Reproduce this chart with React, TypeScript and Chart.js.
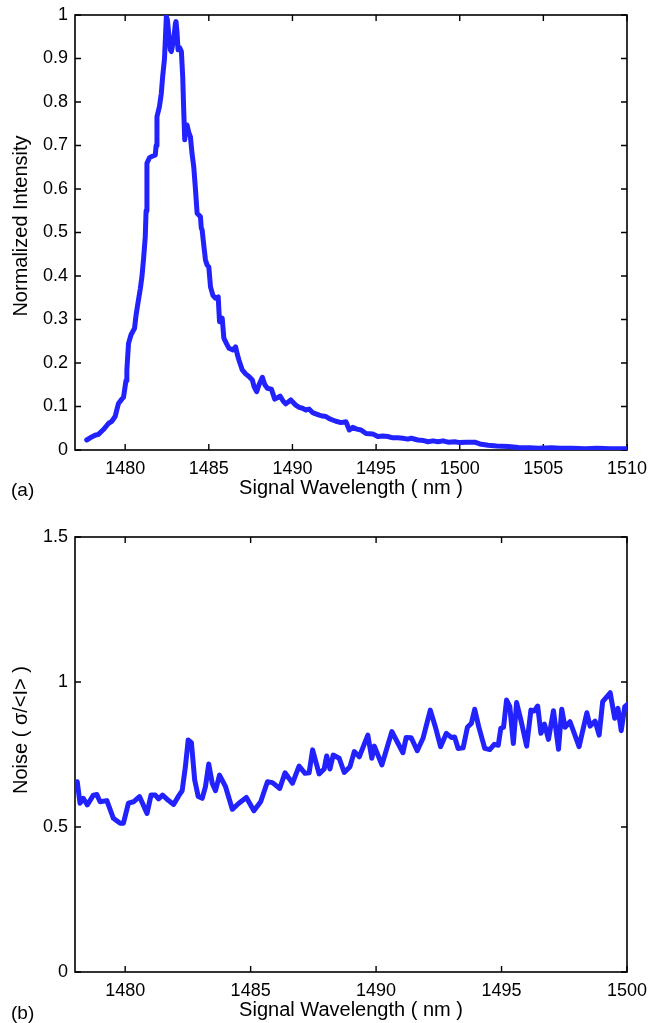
import React, { useEffect, useRef } from "react";
import { Chart, registerables } from "chart.js";
Chart.register(...registerables);

// ---- Panel (a): normalized intensity spectrum ----
const wavelengthA = [
  1477.7, 1478.0, 1478.2, 1478.4, 1478.7, 1479.0, 1479.2, 1479.4, 1479.5, 1479.6,
  1479.8, 1479.9, 1480.05, 1480.1, 1480.2, 1480.35, 1480.56, 1480.65, 1480.76, 1480.9,
  1481.0, 1481.1, 1481.2, 1481.25, 1481.3, 1481.45, 1481.56, 1481.8, 1481.85, 1481.9,
  1482.05, 1482.16, 1482.24, 1482.35, 1482.4, 1482.46, 1482.52, 1482.6, 1482.7, 1482.76,
  1482.9, 1483.0, 1483.04, 1483.1, 1483.16, 1483.26, 1483.36, 1483.44, 1483.5, 1483.56,
  1483.62, 1483.7, 1483.8, 1483.9, 1484.0, 1484.1, 1484.2, 1484.3, 1484.4, 1484.5,
  1484.55, 1484.6, 1484.7, 1484.8, 1484.9, 1485.0, 1485.1, 1485.25, 1485.4, 1485.56,
  1485.64, 1485.8, 1485.9, 1486.05, 1486.2, 1486.44, 1486.6, 1486.7, 1486.8, 1487.0,
  1487.2, 1487.4, 1487.6, 1487.7, 1487.86, 1488.0, 1488.2, 1488.35, 1488.5, 1488.74,
  1488.94, 1489.1, 1489.26, 1489.45, 1489.6, 1489.9, 1490.2, 1490.4, 1490.6, 1490.8,
  1491.0, 1491.2, 1491.4, 1491.6, 1491.8, 1492.0, 1492.2, 1492.4, 1492.6, 1492.9,
  1493.2, 1493.4, 1493.6, 1493.85, 1494.1, 1494.4, 1494.8, 1495.1, 1495.4, 1495.7,
  1496.0, 1496.3, 1496.6, 1496.9, 1497.1, 1497.5, 1497.8, 1498.1, 1498.4, 1498.7,
  1499.0, 1499.3, 1499.7, 1500.0, 1500.4, 1500.9, 1501.2, 1501.7, 1502.2, 1502.9,
  1503.5, 1504.2, 1504.7, 1505.5, 1506.0, 1506.7, 1507.5, 1508.2, 1509.0, 1509.6,
  1510.0,
];
const intensityA = [
  0.023, 0.030, 0.034, 0.036, 0.047, 0.061, 0.066, 0.077, 0.092, 0.107,
  0.117, 0.121, 0.160, 0.184, 0.245, 0.265, 0.280, 0.310, 0.337, 0.370,
  0.398, 0.440, 0.490, 0.550, 0.659, 0.672, 0.674, 0.678, 0.700, 0.766,
  0.790, 0.820, 0.858, 0.900, 0.943, 0.996, 0.990, 0.958, 0.920, 0.916,
  0.943, 0.980, 0.985, 0.960, 0.920, 0.925, 0.916, 0.858, 0.780, 0.713,
  0.740, 0.747, 0.730, 0.720, 0.680, 0.651, 0.600, 0.544, 0.540, 0.536,
  0.510, 0.506, 0.470, 0.437, 0.425, 0.421, 0.375, 0.355, 0.349, 0.352,
  0.295, 0.303, 0.257, 0.245, 0.234, 0.230, 0.237, 0.220, 0.207, 0.184,
  0.175, 0.169, 0.161, 0.146, 0.134, 0.150, 0.167, 0.150, 0.142, 0.140,
  0.117, 0.120, 0.124, 0.112, 0.106, 0.115, 0.103, 0.098, 0.096, 0.092,
  0.094, 0.086, 0.083, 0.080, 0.078, 0.077, 0.072, 0.069, 0.066, 0.063,
  0.065, 0.046, 0.052, 0.048, 0.046, 0.038, 0.037, 0.031, 0.032, 0.031,
  0.028, 0.028, 0.027, 0.025, 0.027, 0.023, 0.022, 0.019, 0.021, 0.019,
  0.021, 0.018, 0.019, 0.017, 0.018, 0.018, 0.014, 0.011, 0.009, 0.008,
  0.006, 0.005, 0.004, 0.005, 0.004, 0.004, 0.003, 0.004, 0.003, 0.003,
  0.003,
];
const xTicksA = [1480, 1485, 1490, 1495, 1500, 1505, 1510];
const yTicksA = [0, 0.1, 0.2, 0.3, 0.4, 0.5, 0.6, 0.7, 0.8, 0.9, 1];
const yTickLabelsA = ["0", "0.1", "0.2", "0.3", "0.4", "0.5", "0.6", "0.7", "0.8", "0.9", "1"];

// ---- Panel (b): noise ----
const wavelengthB = [
  1478.09, 1478.2, 1478.33, 1478.49, 1478.73, 1478.87, 1479.0, 1479.27, 1479.53, 1479.8,
  1479.93, 1480.13, 1480.33, 1480.57, 1480.87, 1481.03, 1481.2, 1481.33, 1481.49, 1481.73,
  1481.93, 1482.15, 1482.27, 1482.4, 1482.51, 1482.64, 1482.77, 1482.91, 1483.07, 1483.2,
  1483.33, 1483.47, 1483.6, 1483.76, 1484.0, 1484.27, 1484.53, 1484.83, 1485.13, 1485.4,
  1485.67, 1485.87, 1486.16, 1486.37, 1486.67, 1486.93, 1487.17, 1487.33, 1487.47, 1487.73,
  1487.93, 1488.03, 1488.16, 1488.29, 1488.53, 1488.73, 1488.96, 1489.13, 1489.33, 1489.67,
  1489.83, 1489.93, 1490.23, 1490.63, 1490.84, 1491.07, 1491.2, 1491.4, 1491.64, 1491.87,
  1492.16, 1492.36, 1492.57, 1492.8, 1493.0, 1493.13, 1493.27, 1493.47, 1493.64, 1493.8,
  1493.93, 1494.09, 1494.33, 1494.53, 1494.71, 1494.87, 1494.97, 1495.08, 1495.2, 1495.33,
  1495.47, 1495.6, 1495.8, 1496.0, 1496.17, 1496.3, 1496.44, 1496.57, 1496.71, 1496.87,
  1497.07, 1497.27, 1497.4, 1497.53, 1497.73, 1498.09, 1498.4, 1498.53, 1498.73, 1498.89,
  1499.03, 1499.33, 1499.51, 1499.64, 1499.77, 1499.91, 1500.04,
];
const noiseB = [
  0.656, 0.582, 0.599, 0.576, 0.610, 0.612, 0.587, 0.591, 0.530, 0.513,
  0.513, 0.582, 0.587, 0.605, 0.547, 0.610, 0.610, 0.597, 0.610, 0.591,
  0.578, 0.610, 0.625, 0.708, 0.800, 0.791, 0.662, 0.605, 0.599, 0.639,
  0.717, 0.651, 0.625, 0.679, 0.639, 0.561, 0.582, 0.602, 0.556, 0.587,
  0.656, 0.653, 0.633, 0.687, 0.651, 0.710, 0.685, 0.687, 0.766, 0.683,
  0.700, 0.745, 0.700, 0.748, 0.737, 0.688, 0.708, 0.760, 0.742, 0.817,
  0.737, 0.779, 0.714, 0.829, 0.794, 0.756, 0.809, 0.808, 0.763, 0.806,
  0.903, 0.846, 0.777, 0.823, 0.809, 0.810, 0.771, 0.773, 0.844, 0.858,
  0.906, 0.846, 0.771, 0.767, 0.785, 0.782, 0.840, 0.844, 0.938, 0.915,
  0.788, 0.929, 0.858, 0.779, 0.903, 0.900, 0.917, 0.823, 0.855, 0.802,
  0.901, 0.768, 0.906, 0.844, 0.863, 0.777, 0.894, 0.848, 0.865, 0.817,
  0.932, 0.963, 0.875, 0.909, 0.832, 0.915, 0.924,
];
const xTicksB = [1480, 1485, 1490, 1495, 1500];
const yTicksB = [0, 0.5, 1, 1.5];
const yTickLabelsB = ["0", "0.5", "1", "1.5"];

const FONT = "'Liberation Sans', Arial, Helvetica, sans-serif";
const LINE_COLOR = "rgb(34, 34, 255)";

const boxPlugin = {
  id: "matlabBox",
  beforeDatasetsDraw(chart: any) {
    const { ctx, chartArea: a, scales } = chart;
    ctx.save();
    ctx.strokeStyle = "#000";
    ctx.lineWidth = 1.6;
    ctx.strokeRect(a.left, a.top, a.right - a.left, a.bottom - a.top);
    const tl = 6;
    ctx.lineWidth = 1.4;
    ctx.beginPath();
    scales.x.ticks.forEach((t: any) => {
      const px = scales.x.getPixelForValue(t.value);
      ctx.moveTo(px, a.bottom);
      ctx.lineTo(px, a.bottom - tl);
      ctx.moveTo(px, a.top);
      ctx.lineTo(px, a.top + tl);
    });
    scales.y.ticks.forEach((t: any) => {
      const py = scales.y.getPixelForValue(t.value);
      ctx.moveTo(a.left, py);
      ctx.lineTo(a.left + tl, py);
      ctx.moveTo(a.right, py);
      ctx.lineTo(a.right - tl, py);
    });
    ctx.stroke();
    ctx.restore();
  },
  afterDraw(chart: any, _args: any, opts: any) {
    if (!opts || !opts.text) return;
    const { ctx } = chart;
    ctx.save();
    ctx.translate(opts.cx, opts.cy);
    ctx.rotate(-Math.PI / 2);
    ctx.font = `20px ${FONT}`;
    ctx.fillStyle = "#000";
    ctx.textAlign = "center";
    ctx.textBaseline = "middle";
    ctx.fillText(opts.text, 0, 0);
    ctx.restore();
  },
};

function makeConfig(o: any) {
  const data = o.xs.map((x: number, i: number) => ({ x, y: o.ys[i] }));
  return {
    type: "line",
    data: {
      datasets: [
        {
          data,
          borderColor: LINE_COLOR,
          borderWidth: 5,
          pointRadius: 0,
          tension: 0,
          fill: false,
          borderJoinStyle: "round",
          borderCapStyle: "round",
        },
      ],
    },
    plugins: [boxPlugin],
    options: {
      animation: false,
      responsive: false,
      devicePixelRatio: 1,
      layout: { padding: o.padding },
      plugins: {
        legend: { display: false },
        tooltip: { enabled: false },
        matlabBox: { text: o.yTitle, cx: 21.5, cy: o.yTitleCy },
      },
      scales: {
        x: {
          type: "linear",
          min: o.xmin,
          max: o.xmax,
          afterBuildTicks: (s: any) => {
            s.ticks = o.xTicks.map((v: number) => ({ value: v }));
          },
          afterFit: (s: any) => {
            s.height = o.xAxisH;
            s.paddingLeft = 0;
            s.paddingRight = 0;
          },
          grid: { display: false, drawTicks: false },
          border: { display: false },
          ticks: {
            color: "#000",
            font: { family: FONT, size: 18 },
            padding: 8,
            maxRotation: 0,
            autoSkip: false,
            callback: (v: any) => String(v),
          },
          title: {
            display: true,
            text: "Signal Wavelength ( nm )",
            color: "#000",
            font: { family: FONT, size: 20 },
            padding: { top: 0, bottom: o.xTitlePad },
          },
        },
        y: {
          type: "linear",
          min: o.ymin,
          max: o.ymax,
          afterBuildTicks: (s: any) => {
            s.ticks = o.yTicks.map((v: number) => ({ value: v }));
          },
          afterFit: (s: any) => {
            s.width = 75;
            s.paddingTop = 0;
            s.paddingBottom = 0;
          },
          grid: { display: false, drawTicks: false },
          border: { display: false },
          ticks: {
            color: "#000",
            font: { family: FONT, size: 18 },
            padding: 7,
            autoSkip: false,
            callback: (_v: any, i: number) => o.yLabels[i],
          },
          title: { display: false },
        },
      },
    },
  };
}

function Panel(props: any) {
  const ref = useRef<HTMLCanvasElement | null>(null);
  useEffect(() => {
    if (!ref.current) return;
    const chart = new Chart(ref.current, makeConfig(props.cfg) as any);
    return () => chart.destroy();
  }, []);
  return (
    <canvas
      ref={ref}
      width={650}
      height={props.h}
      style={{ position: "absolute", left: 0, top: props.top, width: 650, height: props.h }}
    />
  );
}

export default function App() {
  const cfgA = {
    xs: wavelengthA,
    ys: intensityA,
    xmin: 1477,
    xmax: 1510,
    ymin: 0,
    ymax: 1,
    xTicks: xTicksA,
    yTicks: yTicksA,
    yLabels: yTickLabelsA,
    yTitle: "Normalized Intensity",
    yTitleCy: 226,
    padding: { left: 0, right: 23, top: 15, bottom: 0 },
    xAxisH: 50,
    xTitlePad: 0,
  };
  const cfgB = {
    xs: wavelengthB,
    ys: noiseB,
    xmin: 1478,
    xmax: 1500,
    ymin: 0,
    ymax: 1.5,
    xTicks: xTicksB,
    yTicks: yTicksB,
    yLabels: yTickLabelsB,
    yTitle: "Noise ( σ/<I> )",
    yTitleCy: 230,
    padding: { left: 0, right: 23, top: 37, bottom: 0 },
    xAxisH: 51,
    xTitlePad: 1,
  };
  const labelStyle: any = {
    position: "absolute",
    left: 11,
    fontFamily: FONT,
    fontSize: 19,
    lineHeight: "19px",
    color: "#000",
  };
  return (
    <div style={{ position: "absolute", left: 0, top: 0, width: 650, height: 1023, background: "#fff" }}>
      <Panel cfg={cfgA} top={0} h={500} />
      <Panel cfg={cfgB} top={500} h={523} />
      <div style={{ ...labelStyle, top: 480 }}>(a)</div>
      <div style={{ ...labelStyle, top: 1003 }}>(b)</div>
    </div>
  );
}
